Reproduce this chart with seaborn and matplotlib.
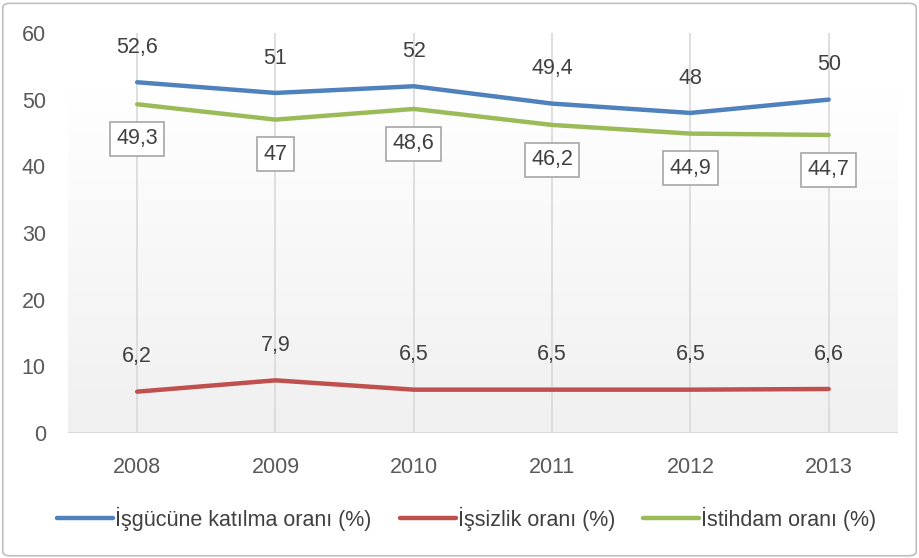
import numpy as np
import pandas as pd
import matplotlib
matplotlib.use("Agg")
import matplotlib.pyplot as plt
import seaborn as sns
from matplotlib.patches import FancyBboxPatch
from matplotlib.lines import Line2D

years = ["2008", "2009", "2010", "2011", "2012", "2013"]
katilma = [52.6, 51, 52, 49.4, 48, 50]
issizlik = [6.2, 7.9, 6.5, 6.5, 6.5, 6.6]
istihdam = [49.3, 47, 48.6, 46.2, 44.9, 44.7]
series_names = ["İşgücüne katılma oranı (%)", "İşsizlik oranı (%)", "İstihdam oranı (%)"]
colors = ["#4F81BD", "#C0504D", "#9BBB59"]

sns.set_theme(style="white")
plt.rcParams['font.family'] = ['Liberation Sans', 'DejaVu Sans']

df = pd.DataFrame({
    "value": katilma + issizlik + istihdam,
    "series": [series_names[0]] * 6 + [series_names[1]] * 6 + [series_names[2]] * 6,
})
df["x"] = list(range(6)) * 3

fig = plt.figure(figsize=(9.19, 5.58), dpi=100)
ax = fig.add_axes([0.074, 0.224, 0.903, 0.717])

# gradient background
grad = np.linspace(1, 0, 256).reshape(-1, 1)
cmap = matplotlib.colors.LinearSegmentedColormap.from_list("g", ["#F0F0F0", "#FFFFFF"])
ax.imshow(grad, extent=[-0.5, 5.5, 0, 52], aspect="auto", cmap=cmap, vmin=0, vmax=1, zorder=0)

sns.lineplot(data=df, x="x", y="value", hue="series", palette=colors, linewidth=3.2,
             ax=ax, legend=False, zorder=3)

ax.set_xlim(-0.5, 5.5)
ax.set_ylim(0, 60)
ax.set_xticks(range(6))
ax.set_xticklabels(years)
ax.set_yticks(range(0, 61, 10))
for x in range(6):
    ax.axvline(x, color="#D9D9D9", lw=1.2, zorder=1)
ax.axhline(0, color="#D9D9D9", lw=1.5, zorder=2)
for s in ax.spines.values():
    s.set_visible(False)
ax.tick_params(axis="both", length=0, labelsize=15.5, labelcolor="#595959")
ax.tick_params(axis="x", pad=17)
ax.tick_params(axis="y", pad=16)
ax.set_xlabel("")
ax.set_ylabel("")

def fmt(v):
    return f"{v:g}".replace(".", ",")

for i, v in enumerate(katilma):
    ax.annotate(fmt(v), (i, v), xytext=(0, 25), textcoords="offset points",
                ha="center", va="center", fontsize=15.5, color="#404040", zorder=5)
for i, v in enumerate(issizlik):
    ax.annotate(fmt(v), (i, v), xytext=(0, 25), textcoords="offset points",
                ha="center", va="center", fontsize=15.5, color="#404040", zorder=5)
for i, v in enumerate(istihdam):
    ax.annotate(fmt(v), (i, v), xytext=(0, -25), textcoords="offset points",
                ha="center", va="center", fontsize=15.5, color="#404040", zorder=5,
                bbox=dict(boxstyle="square,pad=0.3", fc="white", ec="#A6A6A6", lw=1.2))

handles = [Line2D([0], [0], color=c, lw=3.2) for c in colors]
fig.legend(handles, series_names, loc="center", bbox_to_anchor=(0.508, 0.07), ncol=3,
           frameon=False, fontsize=15.5, labelcolor="#404040", handlelength=2.6,
           handletextpad=0.1, columnspacing=1.3)

border = FancyBboxPatch((0.003, 0.004), 0.994, 0.99, boxstyle="round,pad=0,rounding_size=0.008",
                        transform=fig.transFigure, fill=False, ec="#BFBFBF", lw=1.2)
fig.patches.append(border)

fig.savefig("out.png", dpi=100)
